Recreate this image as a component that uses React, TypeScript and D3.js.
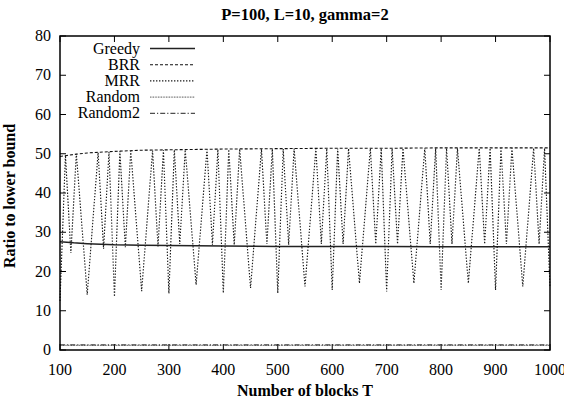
import React from "react";
import * as d3 from "d3";

// Block counts T and ratio-to-lower-bound values for each scheduler
const greedyT = [100, 125, 150, 200, 250, 300, 400, 500, 600, 700, 800, 900, 1000];
const greedyRatio = [27.6, 27.3, 27.1, 26.8, 26.7, 26.6, 26.5, 26.4, 26.4, 26.4, 26.3, 26.3, 26.3];

const brrT = [100, 125, 150, 200, 250, 300, 400, 500, 600, 700, 800, 900, 1000];
const brrRatio = [49.3, 49.8, 50.2, 50.6, 50.9, 51.0, 51.2, 51.3, 51.4, 51.4, 51.5, 51.5, 51.5];

const mrrT = [
  100, 110, 120, 130, 150, 170, 180, 190, 200,
  210, 220, 230, 250, 270, 280, 290, 300,
  310, 320, 330, 350, 370, 380, 390, 400,
  410, 420, 430, 450, 470, 480, 490, 500,
  510, 520, 530, 550, 570, 580, 590, 600,
  610, 620, 630, 650, 670, 680, 690, 700,
  710, 720, 730, 750, 770, 780, 790, 800,
  810, 820, 830, 850, 870, 880, 890, 900,
  910, 920, 930, 950, 970, 980, 990, 1000,
];
const mrrRatio = [
  12.5, 49.6, 24.7, 50.0, 14.1, 50.3, 25.8, 50.5, 13.6,
  50.6, 26.2, 50.7, 15.0, 50.8, 26.4, 50.9, 14.4,
  51.0, 27.0, 51.0, 16.6, 51.1, 26.8, 51.1, 14.5,
  51.1, 26.8, 51.2, 15.8, 51.2, 27.0, 51.2, 14.5,
  51.2, 26.8, 51.3, 16.2, 51.3, 27.0, 51.3, 15.3,
  51.3, 27.0, 51.3, 17.0, 51.3, 27.0, 51.3, 14.9,
  51.3, 27.0, 51.4, 17.0, 51.4, 27.0, 51.4, 15.3,
  51.4, 27.0, 51.4, 17.0, 51.4, 27.0, 51.4, 15.3,
  51.4, 27.0, 51.4, 16.2, 51.4, 27.0, 51.4, 16.0,
];

const randomT = [100, 1000];
const randomRatio = [1.2, 1.2];

const random2T = [100, 1000];
const random2Ratio = [1.3, 1.3];

const xTicks = [100, 200, 300, 400, 500, 600, 700, 800, 900, 1000];
const yTicks = [0, 10, 20, 30, 40, 50, 60, 70, 80];

const seriesNames = ["Greedy", "BRR", "MRR", "Random", "Random2"];

const W = 564;
const H = 400;
const left = 60;
const right = 550;
const top = 36;
const bottom = 350;

const textStyle: React.CSSProperties = { fontFamily: "Liberation Serif, serif" };

export default function App() {
  const x = d3.scaleLinear().domain([100, 1000]).range([left, right]);
  const y = d3.scaleLinear().domain([0, 80]).range([bottom, top]);

  const line = d3
    .line<[number, number]>()
    .x((d) => x(d[0]))
    .y((d) => y(d[1]));

  const zip = (a: number[], b: number[]) => a.map((v, i) => [v, b[i]] as [number, number]);

  const series = [
    { name: seriesNames[0], pts: zip(greedyT, greedyRatio), dash: "none", color: "#222", width: 1.5 },
    { name: seriesNames[1], pts: zip(brrT, brrRatio), dash: "3,2", color: "#111", width: 1.1 },
    { name: seriesNames[2], pts: zip(mrrT, mrrRatio), dash: "1.4,1.6", color: "#1a1a1a", width: 1.15 },
    { name: seriesNames[3], pts: zip(randomT, randomRatio), dash: "0.8,0.8", color: "#333", width: 1 },
    { name: seriesNames[4], pts: zip(random2T, random2Ratio), dash: "5,2,1.2,2", color: "#222", width: 1 },
  ];

  const tick = 6;

  return (
    <svg
      width={W}
      height={H}
      style={{ position: "absolute", left: 0, top: 0, background: "#fff" }}
    >
      <rect x={0} y={0} width={W} height={H} fill="#fff" />

      {/* tick marks on all four sides */}
      {xTicks.map((t) => (
        <g key={"xt" + t} stroke="#000" strokeWidth={1}>
          <line x1={x(t)} x2={x(t)} y1={bottom} y2={bottom - tick} />
          <line x1={x(t)} x2={x(t)} y1={top} y2={top + tick} />
        </g>
      ))}
      {yTicks.map((t) => (
        <g key={"yt" + t} stroke="#000" strokeWidth={1}>
          <line x1={left} x2={left + tick} y1={y(t)} y2={y(t)} />
          <line x1={right} x2={right - tick} y1={y(t)} y2={y(t)} />
        </g>
      ))}

      {/* data lines */}
      {series.map((s) => (
        <path
          key={s.name}
          d={line(s.pts) || ""}
          fill="none"
          stroke={s.color}
          strokeWidth={s.width}
          strokeDasharray={s.dash}
        />
      ))}

      {/* frame */}
      <rect
        x={left}
        y={top}
        width={right - left}
        height={bottom - top}
        fill="none"
        stroke="#000"
        strokeWidth={1.5}
      />

      {/* tick labels */}
      {xTicks.map((t) => (
        <text key={"xl" + t} x={x(t)} y={375} textAnchor="middle" fontSize={16} style={textStyle}>
          {t}
        </text>
      ))}
      {yTicks.map((t) => (
        <text key={"yl" + t} x={51} y={y(t) + 5} textAnchor="end" fontSize={16} style={textStyle}>
          {t}
        </text>
      ))}

      {/* legend */}
      {series.map((s, i) => {
        const ly = 48.5 + i * 16.2;
        return (
          <g key={"lg" + s.name}>
            <text x={140} y={ly + 5} textAnchor="end" fontSize={16} style={textStyle}>
              {s.name}
            </text>
            <line
              x1={150}
              x2={195}
              y1={ly}
              y2={ly}
              stroke={s.color}
              strokeWidth={s.width}
              strokeDasharray={s.dash}
            />
          </g>
        );
      })}

      {/* titles */}
      <text x={305} y={20} textAnchor="middle" fontSize={16.5} fontWeight="bold" style={textStyle}>
        P=100, L=10, gamma=2
      </text>
      <text x={305} y={396} textAnchor="middle" fontSize={16} fontWeight="bold" style={textStyle}>
        Number of blocks T
      </text>
      <text
        transform={`translate(15, 196) rotate(-90)`}
        textAnchor="middle"
        fontSize={16}
        fontWeight="bold"
        style={textStyle}
      >
        Ratio to lower bound
      </text>
    </svg>
  );
}
